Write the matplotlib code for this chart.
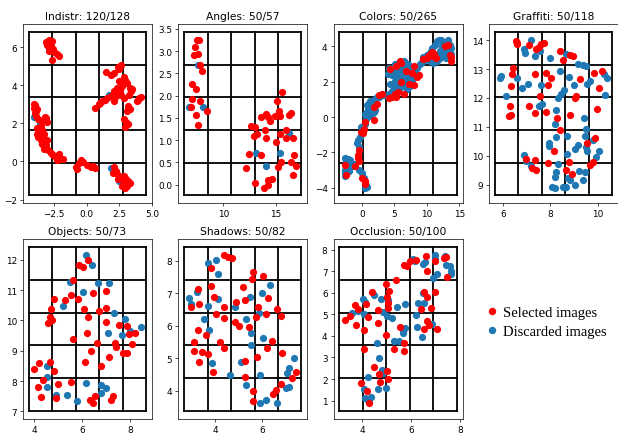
import numpy as np
import matplotlib
matplotlib.use("Agg")
import matplotlib.pyplot as plt
from matplotlib.lines import Line2D

SEL_COLOR = "red"
DIS_COLOR = "#1f77b4"

titles = ["Indistr: 120/128", "Angles: 50/57", "Colors: 50/265", "Graffiti: 50/118",
          "Objects: 50/73", "Shadows: 50/82", "Occlusion: 50/100"]
legend_labels = ["Selected images", "Discarded images"]

# (x, y) of each embedded image
indistr_selected = [
    (-3.16, 6.28), (-2.89, 6.39), (-2.68, 6.32), (-3.03, 6.08), (-2.76, 6.04), (-2.63, 5.91),
    (-2.89, 5.77), (-2.50, 5.73), (-2.32, 5.65), (-2.16, 5.53), (-2.68, 5.30), (-2.95, 6.21),
    (-4.05, 3.02), (-4.02, 2.82), (-3.95, 2.95), (-3.90, 2.64), (-3.99, 2.56), (-3.94, 2.39),
    (-3.74, 2.21), (-3.42, 2.13), (-3.16, 2.27), (-3.03, 2.09), (-3.21, 2.33), (-3.82, 1.75),
    (-3.68, 1.53), (-3.42, 1.65), (-3.29, 1.44), (-3.74, 1.27), (-3.55, 1.10), (-3.29, 1.18),
    (-3.42, 0.93), (-3.16, 0.84), (-3.29, 0.67), (-2.95, 0.58), (-2.76, 0.45), (-2.63, 0.33),
    (-2.37, 0.24), (-2.16, 0.41), (-2.05, 0.15), (-2.32, 0.07), (-1.84, 0.10), (-3.82, 1.44),
    (-3.03, 1.10), (-3.86, 2.76), (-3.55, 1.87),
    (-0.79, -0.27), (-0.61, -0.10), (-0.42, 0.07), (-0.74, -0.41), (0.05, -0.19), (0.32, -0.31),
    (0.66, -0.36), (0.47, -0.24), (-0.26, -0.02),
    (2.11, -0.31), (2.24, -0.53), (2.42, -0.70), (2.05, -0.62), (2.63, -0.88), (2.84, -0.79),
    (3.03, -0.93), (3.16, -1.05), (2.89, -1.13), (2.68, -1.30), (3.11, -1.27), (3.29, -1.13),
    (2.76, -1.00), (2.37, -0.93), (2.95, -1.39),
    (0.66, 2.78), (0.92, 3.02), (1.18, 3.16), (1.37, 3.24), (1.58, 3.33), (1.84, 3.42),
    (2.11, 3.16), (2.24, 3.42), (2.37, 3.59), (2.53, 3.76), (2.63, 3.50), (2.11, 3.67),
    (2.68, 3.93), (2.50, 4.84), (2.63, 5.08), (2.42, 4.96), (2.11, 4.62), (1.84, 4.53),
    (1.45, 4.67), (2.84, 4.45), (2.95, 4.27), (3.11, 4.10), (3.29, 3.85), (3.42, 3.67),
    (3.21, 3.50), (2.84, 3.33), (3.16, 2.90), (3.29, 2.73), (3.11, 2.64), (2.84, 2.21),
    (3.03, 2.04), (2.95, 1.79), (3.16, 1.96), (3.85, 3.16), (4.05, 3.33), (4.15, 3.36),
    (3.96, 3.24), (2.50, 4.22), (1.05, 3.07), (2.32, 3.85), (3.47, 3.81),
]
indistr_discarded = [
    (-4.05, 2.35), (-3.63, 1.99), (1.71, 3.50), (1.84, -0.36), (2.50, -1.05),
    (-2.89, 5.91), (3.16, 2.81), (-2.37, 0.27),
]

angles_selected = [
    (7.47, 3.26), (7.72, 3.24), (7.31, 3.09), (7.25, 2.92), (7.63, 2.94), (7.78, 2.68),
    (7.94, 2.56), (6.99, 2.26), (7.41, 2.14), (7.06, 1.93), (7.78, 1.89), (6.90, 1.74),
    (8.42, 1.65), (7.44, 1.56), (7.63, 1.34),
    (15.60, 2.08), (15.16, 1.89), (14.27, 1.52), (13.64, 1.53), (14.11, 1.59), (14.97, 1.54),
    (15.38, 1.65), (15.47, 1.54), (16.33, 1.56), (16.49, 1.61), (14.52, 1.43), (12.69, 1.32),
    (13.01, 1.29), (12.94, 1.09), (13.26, 1.13), (13.96, 1.22), (14.11, 1.06), (15.98, 1.22),
    (15.47, 1.15), (15.98, 1.06), (16.65, 1.04), (15.03, 0.95), (12.47, 0.69), (13.58, 0.67),
    (15.54, 0.50), (16.49, 0.50), (16.81, 0.67), (16.97, 0.43), (15.22, 0.41), (12.22, 0.37),
    (13.01, 0.04), (14.27, 0.11), (14.65, 0.13), (13.89, -0.07), (14.27, -0.01), (16.65, 0.21),
]
angles_discarded = [
    (7.63, 2.70), (6.77, 1.74), (8.04, 1.74), (16.33, 1.17), (13.10, 0.72), (15.41, 0.72),
    (14.05, 0.42),
]

colors_selected = [
    (-2.62, -2.70), (-2.41, -3.26), (-1.13, -2.75), (-0.62, -2.33), (-0.41, -1.86), (-0.62, -2.14),
    (0.10, -0.93), (0.26, -0.65), (-0.10, -0.84), (0.00, -3.44), (0.41, -3.63), (0.51, -3.76),
    (1.79, 0.56), (1.79, -0.19), (3.08, 1.30), (2.67, 1.27), (4.10, 1.08), (4.62, 1.15),
    (5.23, 1.15), (5.54, 1.40), (6.56, 1.30), (4.36, 2.70), (5.90, 3.16), (6.05, 3.07),
    (6.05, 1.95), (7.69, 2.46), (8.10, 2.88), (8.46, 2.23), (8.10, 1.82), (9.49, 3.26),
    (10.00, 3.35), (10.26, 3.44), (10.67, 3.63), (10.87, 3.68), (11.03, 3.44), (11.38, 3.31),
    (11.18, 3.57), (12.82, 4.00), (13.33, 4.09), (13.59, 3.50), (13.74, 3.16), (13.74, 3.39),
    (6.77, 2.57), (5.13, 1.30), (5.23, 2.88), (7.18, 1.86), (0.51, -0.28), (-0.51, -2.51),
    (2.31, 0.71), (8.72, 2.38),
]
colors_discarded = [
    (-2.56, -2.33), (-2.15, -2.38), (-1.79, -2.42), (-2.46, -2.51), (-2.05, -2.60), (-2.62, -2.98),
    (-2.31, -2.88), (-2.56, -3.16), (-2.05, -3.07), (-2.65, -3.35), (-1.54, -2.79), (-1.28, -2.66),
    (-0.51, -3.01), (0.00, -3.16), (0.26, -3.44), (0.62, -3.81), (0.41, -4.00), (0.77, -3.94),
    (-0.77, -1.49), (-0.41, -1.67), (-0.62, -1.30), (-0.26, -1.12), (0.00, -0.74), (-0.10, -0.56),
    (0.26, -0.47), (0.51, -0.37), (0.62, -0.09), (0.41, 0.19), (0.77, 0.28), (0.92, 0.47),
    (0.77, 0.65), (1.13, 0.78), (1.28, 0.89), (1.54, 0.93), (1.03, 0.04), (1.28, 0.37),
    (1.54, 0.19), (1.79, 0.28), (2.05, 0.37), (2.05, 1.02), (2.31, 1.12), (2.56, 1.15),
    (2.82, 1.21), (3.33, 1.27),
    (4.00, 2.42), (4.36, 2.51), (4.62, 2.38), (4.87, 2.46), (5.23, 2.57), (5.54, 2.70),
    (5.74, 2.51), (6.15, 2.60), (6.41, 2.79), (6.67, 2.42), (6.92, 2.23), (7.18, 2.70),
    (7.44, 2.14), (7.69, 2.05), (7.95, 2.38), (5.03, 2.05), (5.38, 1.82), (4.87, 1.67),
    (5.64, 1.58), (5.90, 1.67), (6.41, 1.77), (6.77, 1.95), (6.15, 2.14), (4.62, 1.49),
    (4.36, 1.86), (4.10, 1.30), (6.92, 1.58), (7.44, 1.77), (8.21, 2.60), (8.46, 2.79),
    (7.08, 2.98), (5.13, 2.98), (5.64, 3.07), (6.41, 3.16), (4.21, 2.79), (5.38, 2.23),
    (8.97, 2.98), (9.23, 3.13), (9.74, 3.20), (9.49, 3.39), (10.00, 3.50), (10.36, 3.57),
    (10.67, 3.72), (10.87, 3.91), (11.28, 4.09), (11.54, 4.28), (11.90, 4.37), (12.21, 4.32),
    (12.56, 4.24), (12.31, 4.00), (12.05, 3.72), (11.79, 3.53), (12.41, 3.63), (12.82, 3.81),
    (13.08, 4.24), (13.33, 4.37), (13.59, 4.09), (13.78, 3.91), (13.18, 3.72), (12.72, 3.44),
    (12.05, 3.35), (11.54, 3.16), (11.03, 3.07), (10.51, 3.16), (13.80, 3.53), (12.92, 3.31),
]

graffiti_selected = [
    (6.56, 13.97), (6.61, 13.85), (7.12, 13.83), (7.39, 13.68), (7.51, 13.77), (7.73, 13.89),
    (8.40, 13.62), (8.54, 13.30), (8.82, 13.48), (8.96, 13.44), (6.42, 13.02), (6.38, 12.82),
    (7.35, 12.82), (7.84, 12.87), (8.05, 12.68), (6.33, 12.41), (7.59, 12.07), (7.91, 12.45),
    (9.10, 12.07), (9.03, 11.99), (9.26, 12.64), (9.85, 12.87), (10.18, 12.95), (10.07, 12.33),
    (6.31, 11.72), (6.28, 11.38), (6.33, 11.41), (7.12, 11.72), (7.37, 11.49), (7.84, 11.53),
    (8.29, 11.30), (8.82, 11.41), (9.98, 11.61), (8.43, 10.89), (9.54, 10.43), (9.90, 10.63),
    (8.15, 10.15), (6.98, 9.89), (7.35, 9.85), (7.25, 9.57), (7.39, 9.51), (7.91, 9.75),
    (8.79, 9.80), (8.65, 9.51), (8.93, 9.37), (9.82, 9.77), (9.68, 9.69), (6.59, 13.91),
    (7.63, 13.85),
]
graffiti_discarded = [
    (7.21, 14.02), (6.89, 13.71), (6.95, 13.56), (7.35, 13.45), (7.56, 13.62), (7.98, 13.39),
    (8.68, 13.51), (9.17, 13.16), (9.38, 13.14), (9.51, 13.10), (8.40, 12.95), (8.79, 12.72),
    (8.98, 12.45), (9.54, 12.49), (9.68, 12.59), (10.28, 12.82), (10.38, 12.68), (10.32, 12.10),
    (5.92, 12.76), (5.89, 12.68), (6.14, 12.07), (6.59, 12.70), (6.80, 12.36), (7.07, 12.49),
    (7.63, 12.45), (8.33, 12.01), (8.47, 12.13), (8.57, 12.26), (8.26, 11.57), (7.51, 11.72),
    (9.40, 11.30), (9.49, 10.91), (9.46, 10.69), (8.20, 11.09), (8.26, 10.66), (8.71, 10.68),
    (7.95, 10.43), (7.95, 10.34), (9.03, 10.23), (9.17, 10.38), (9.53, 10.17), (10.05, 10.15),
    (9.82, 10.54), (8.71, 10.06), (9.93, 9.97), (6.89, 10.02), (7.17, 9.66), (8.33, 9.71),
    (8.26, 9.43), (8.19, 9.25), (8.75, 9.23), (8.82, 9.16), (9.03, 9.00), (9.38, 9.16),
    (9.45, 9.43), (8.09, 8.91), (8.19, 8.89), (8.54, 8.93), (8.68, 8.91), (9.21, 9.48),
    (9.51, 10.29), (7.00, 9.83), (7.67, 11.78),
]

objects_selected = [
    (6.26, 11.99), (5.89, 11.84), (6.05, 11.75), (5.62, 11.33), (5.53, 10.85), (5.82, 10.71),
    (4.82, 10.71), (5.30, 10.68), (6.44, 10.90), (6.99, 10.96), (4.71, 10.36), (6.08, 10.38),
    (6.99, 10.42), (6.71, 10.30), (4.66, 10.11), (6.23, 10.11), (4.75, 10.02), (4.59, 9.91),
    (6.99, 9.95), (7.53, 9.84), (7.86, 9.82), (7.97, 9.54), (8.22, 9.59), (6.22, 9.57),
    (5.64, 9.40), (6.63, 9.27), (7.36, 9.24), (7.40, 9.13), (6.36, 8.99), (7.86, 8.91),
    (8.08, 9.22), (7.12, 8.78), (6.11, 8.64), (4.21, 8.60), (4.00, 8.40), (4.68, 8.64),
    (4.85, 8.32), (6.81, 8.51), (4.18, 7.82), (4.38, 8.04), (5.00, 7.90), (5.53, 7.98),
    (4.30, 7.47), (4.93, 7.44), (6.33, 7.36), (6.44, 7.27), (6.53, 7.51), (7.29, 7.51),
    (7.19, 7.36), (7.70, 8.91),
]
objects_discarded = [
    (6.15, 12.16), (6.42, 11.83), (5.48, 11.26), (6.67, 11.23), (7.11, 11.23), (6.05, 10.93),
    (5.21, 10.49), (7.32, 10.24), (7.81, 10.06), (7.08, 9.57), (7.67, 9.53), (8.00, 9.65),
    (8.45, 9.78), (4.52, 8.51), (4.55, 8.15), (4.55, 7.79), (4.93, 7.55), (5.37, 7.55),
    (5.78, 7.33), (6.16, 7.95), (6.81, 7.87), (6.81, 7.62), (6.99, 7.76),
]

shadows_selected = [
    (4.39, 8.18), (4.53, 8.12), (4.73, 8.10), (3.83, 7.78), (5.61, 7.64), (5.57, 7.44),
    (6.03, 7.52), (3.27, 7.12), (3.85, 7.23), (5.20, 7.19), (5.29, 6.78), (6.24, 6.86),
    (2.99, 6.58), (3.34, 6.66), (3.97, 6.88), (4.38, 6.58), (4.87, 6.73), (5.82, 6.58),
    (5.72, 6.27), (6.17, 6.37), (6.62, 6.52), (6.80, 6.29), (4.03, 6.35), (4.39, 6.24),
    (4.85, 6.13), (5.01, 6.00), (5.44, 5.96), (3.27, 5.87), (3.61, 5.73), (3.12, 5.51),
    (4.21, 5.49), (6.41, 5.54), (3.13, 5.21), (3.44, 5.18), (3.72, 5.13), (3.33, 4.88),
    (4.39, 5.31), (6.20, 5.33), (6.83, 5.15), (5.76, 5.05), (5.29, 4.93), (3.90, 4.59),
    (5.27, 4.44), (5.62, 4.01), (5.62, 3.69), (6.45, 3.90), (6.57, 4.02), (6.80, 4.21),
    (7.26, 4.39), (7.43, 4.59),
]
shadows_discarded = [
    (3.72, 7.92), (4.04, 8.03), (4.14, 7.59), (2.92, 6.85), (2.99, 6.68), (3.22, 7.03),
    (3.72, 6.60), (4.11, 6.83), (4.84, 6.58), (3.54, 6.22), (3.76, 5.88), (5.50, 6.88),
    (5.33, 6.22), (5.51, 5.79), (5.54, 5.40), (5.85, 6.39), (5.99, 7.02), (6.34, 7.24),
    (6.03, 5.63), (3.86, 4.87), (4.64, 4.49), (5.09, 4.90), (5.33, 4.18), (5.92, 4.49),
    (5.92, 3.64), (6.14, 3.73), (6.62, 3.62), (7.01, 4.08), (7.12, 4.13), (7.04, 4.54),
    (7.12, 4.71), (7.33, 5.00),
]

occlusion_selected = [
    (3.30, 4.74), (3.53, 4.92), (3.70, 5.43), (3.84, 5.23), (4.16, 5.46), (3.77, 4.51),
    (4.27, 4.89), (4.09, 4.25), (4.41, 6.04), (4.65, 5.20), (4.65, 4.61), (4.97, 6.42),
    (5.11, 6.08), (5.04, 5.81), (5.08, 5.53), (5.08, 5.27), (5.38, 6.60), (4.99, 4.05),
    (5.55, 4.40), (4.07, 3.39), (5.32, 3.39), (5.73, 3.66), (5.72, 3.31), (3.95, 1.83),
    (4.20, 1.44), (4.31, 0.88), (4.51, 2.55), (4.68, 2.21), (4.74, 1.86), (5.01, 2.36),
    (5.08, 1.98), (5.73, 7.30), (5.86, 7.22), (5.96, 7.49), (6.23, 7.53), (6.64, 7.68),
    (6.97, 7.45), (7.35, 7.62), (7.45, 7.65), (6.68, 6.99), (7.00, 6.04), (7.49, 6.73),
    (6.53, 6.04), (6.68, 5.78), (6.43, 5.23), (6.81, 5.27), (6.68, 4.69), (6.73, 4.51),
    (6.54, 4.31), (7.08, 4.32),
]
occlusion_discarded = [
    (3.59, 5.04), (3.84, 5.15), (4.03, 5.73), (4.14, 5.58), (4.07, 5.01), (4.51, 5.89),
    (4.78, 5.73), (4.88, 5.12), (5.01, 4.92), (5.08, 5.66), (5.22, 4.84), (5.42, 5.32),
    (5.78, 5.47), (5.32, 3.74), (5.51, 3.77), (5.69, 4.15), (5.76, 4.35), (5.66, 4.28),
    (4.61, 3.66), (4.72, 2.98), (4.84, 2.44), (4.88, 2.29), (4.27, 2.10), (4.65, 1.52),
    (4.97, 1.60), (4.07, 1.55), (4.14, 1.11), (4.24, 1.03), (4.38, 1.18), (4.31, 0.94),
    (6.09, 7.57), (6.19, 7.49), (6.50, 7.31), (6.57, 7.42), (7.00, 7.75), (7.00, 7.57),
    (7.41, 7.68), (7.45, 7.27), (7.59, 7.22), (7.66, 7.00), (7.64, 6.88), (6.91, 6.70),
    (7.08, 6.88), (6.50, 6.00), (6.54, 5.50), (6.30, 5.50), (6.23, 4.97), (6.46, 3.94),
    (6.86, 4.55), (6.27, 4.43),
]

panels = [
    (indistr_selected, indistr_discarded),
    (angles_selected, angles_discarded),
    (colors_selected, colors_discarded),
    (graffiti_selected, graffiti_discarded),
    (objects_selected, objects_discarded),
    (shadows_selected, shadows_discarded),
    (occlusion_selected, occlusion_discarded),
]


def draw_panel(ax, title, selected, discarded):
    dx, dy = zip(*discarded)
    sx, sy = zip(*selected)
    ax.scatter(dx, dy, s=27, color=DIS_COLOR, linewidths=0, zorder=3)
    ax.scatter(sx, sy, s=27, color=SEL_COLOR, linewidths=0, zorder=4)

    # 5x5 grid over the area covered by the scatter
    x0, x1 = ax.get_xlim()
    y0, y1 = ax.get_ylim()
    for xv in np.linspace(x0, x1, 6):
        ax.plot([xv, xv], [y0, y1], color="black", lw=1.3, zorder=2)
    for yv in np.linspace(y0, y1, 6):
        ax.plot([x0, x1], [yv, yv], color="black", lw=1.3, zorder=2)

    ax.set_title(title, fontsize=7.7, pad=3.8)
    ax.tick_params(labelsize=6.4, length=2.3, width=0.5, pad=2.0)
    for sp in ax.spines.values():
        sp.set_linewidth(0.5)


def main():
    fig, axes = plt.subplots(2, 4, figsize=(6.18, 4.35), dpi=100)
    fig.subplots_adjust(left=0.037, right=1.0, top=0.9425, bottom=0.035,
                        wspace=0.203, hspace=0.2)

    for ax, title, (sel, dis) in zip(axes.flat, titles, panels):
        draw_panel(ax, title, sel, dis)

    axes[1, 3].axis("off")

    handles = [
        Line2D([], [], ls="none", marker="o", markersize=5.3, color=SEL_COLOR, markeredgewidth=0),
        Line2D([], [], ls="none", marker="o", markersize=5.3, color=DIS_COLOR, markeredgewidth=0),
    ]
    fig.legend(handles, legend_labels, loc="center left", bbox_to_anchor=(0.786, 0.2575),
               frameon=False, borderpad=0, borderaxespad=0, handlelength=0.8,
               handletextpad=0.35, labelspacing=0.35,
               prop={"family": "Liberation Serif", "size": 10.5})

    fig.savefig("out.png", dpi=100)


if __name__ == "__main__":
    main()
